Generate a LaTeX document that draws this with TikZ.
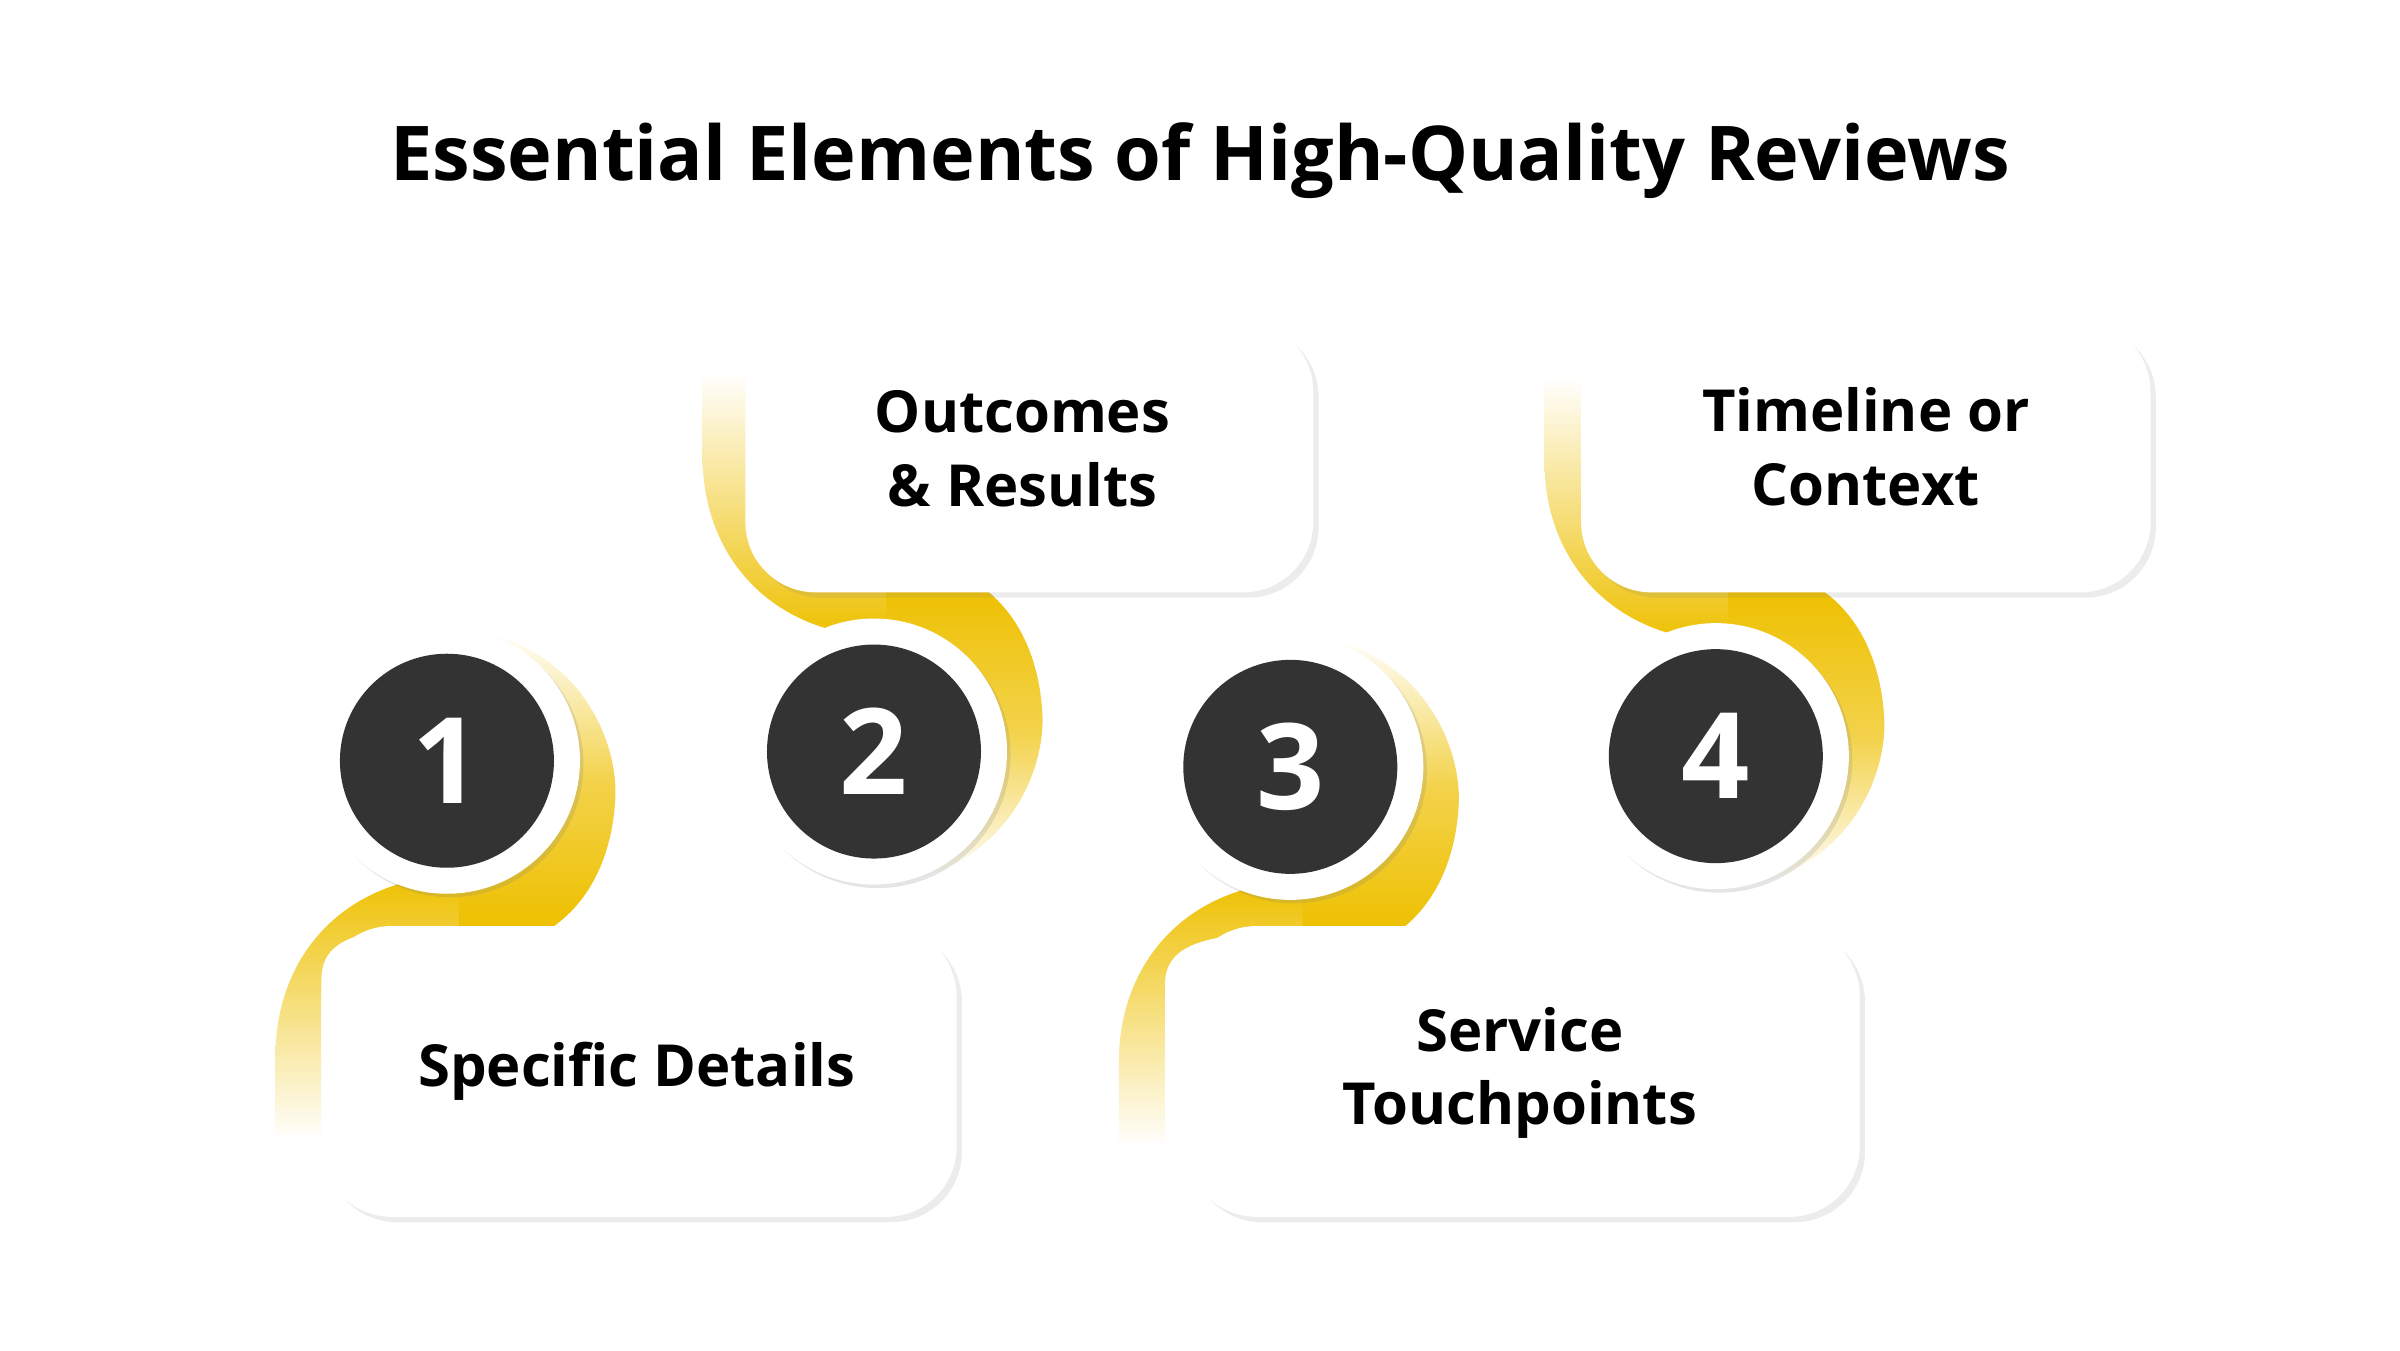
\documentclass[tikz,border=0pt]{standalone}
\usepackage{fontspec}
\setmainfont{Open Sans}
\usetikzlibrary{shadows}
\definecolor{ylw}{HTML}{EEC000}
\definecolor{drk}{HTML}{333333}
\tikzset{
  card/.style={fill=white,rounded corners=20pt,drop shadow={shadow xshift=1.5pt,shadow yshift=-1.5pt,opacity=0.15}},
  ring/.style={circle,fill=white,minimum size=2.66cm,inner sep=0pt,drop shadow={shadow xshift=1pt,shadow yshift=-1pt,opacity=0.2}},
  num/.style={circle,fill=drk,minimum size=2.14cm,inner sep=0pt,text=white,font=\fontsize{34}{38}\selectfont\bfseries},
  lbl/.style={align=center,font=\fontsize{16.5}{21}\selectfont\bfseries},
}
\newcommand{\swoosh}[2]{%
  \shade[top color=#1,bottom color=#2,middle color=ylw!70] (20,-85) .. controls (90,-70) and (112,-10) .. (110,25) .. controls (108,60) and (95,90) .. (70,108) -- (0,108) -- (0,0) -- cycle;
  \shade[top color=#2,bottom color=#1] (8,75) .. controls (-62,75) and (-112,123) .. (-112,193) -- (-112,248) -- (-82,248) -- (-82,143) .. controls (-82,118) and (-62,108) .. (8,108) -- cycle;}
\begin{document}
\begin{tikzpicture}[x=0.01531cm,y=-0.01531cm]
\useasboundingbox[fill=white] (0,0) rectangle (1568,882);
\node[font=\fontsize{21.5}{26}\selectfont\bfseries] (title) at (784,105) {Essential Elements of High-Quality Reviews};
\begin{scope}[shift={(292,497)}]\swoosh{white}{ylw}\end{scope}
\begin{scope}[shift={(571,491)},yscale=-1]\swoosh{ylw}{white}\end{scope}
\begin{scope}[shift={(843,501)}]\swoosh{white}{ylw}\end{scope}
\begin{scope}[shift={(1121,494)},yscale=-1]\swoosh{ylw}{white}\end{scope}
\path[card] (210,605) rectangle (625,795);
\path[card] (487,210) rectangle (858,387);
\path[card] (775,605) rectangle (1215,795);
\path[card] (1033,210) rectangle (1405,387);
\node[lbl] (t1) at (416,700) {Specific Details};
\node[lbl] (t2) at (668,293) {Outcomes\\\& Results};
\node[lbl] (t3) at (993,701) {Service\\Touchpoints};
\node[lbl] (t4) at (1219,292) {Timeline or\\Context};
\foreach \n/\x/\y in {1/292/497,2/571/491,3/843/501,4/1121/494}{
  \node[ring] (r\n) at (\x,\y) {};
  \node[num] (c\n) at (\x,\y) {\n};
}
\end{tikzpicture}
\end{document}
